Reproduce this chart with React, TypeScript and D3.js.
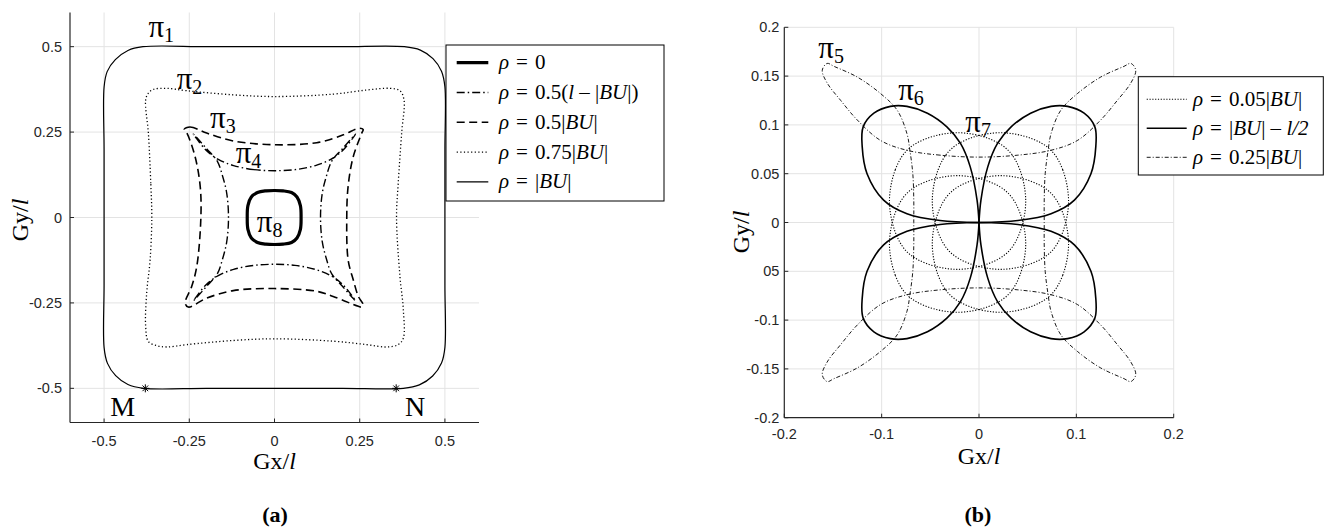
import React from "react";
import * as d3 from "d3";

type P = [number, number];

// ---------------- data: panel (a) ----------------
const aTicks = [-0.5, -0.25, 0, 0.25, 0.5];
const aTickLabels = ["-0.5", "-0.25", "0", "0.25", "0.5"];

// π1 : ρ = |BU|
const pi1: P[] = [
  [-0.5, 0], [-0.5, 0.2], [-0.5, 0.382], [-0.491, 0.427], [-0.467, 0.462], [-0.43, 0.489], [-0.386, 0.5],
  [-0.2, 0.5], [0, 0.5], [0.2, 0.5], [0.381, 0.5], [0.428, 0.49], [0.465, 0.465], [0.49, 0.428], [0.5, 0.382],
  [0.5, 0.2], [0.5, 0], [0.5, -0.2], [0.5, -0.38], [0.49, -0.426], [0.464, -0.464],
  [0.425, -0.49], [0.378, -0.5], [0.2, -0.5], [0, -0.5], [-0.2, -0.5], [-0.385, -0.5], [-0.43, -0.489],
  [-0.466, -0.463], [-0.49, -0.427], [-0.5, -0.38], [-0.5, -0.2],
];
// π2 : ρ = 0.75|BU|
const pi2: P[] = [
  [-0.36, 0], [-0.363, 0.1], [-0.37, 0.247], [-0.378, 0.344], [-0.37, 0.364], [-0.355, 0.375], [-0.316, 0.378],
  [-0.257, 0.371], [-0.121, 0.359], [0, 0.354], [0.172, 0.361], [0.27, 0.373], [0.339, 0.378], [0.368, 0.371],
  [0.38, 0.344], [0.373, 0.247], [0.363, 0.1], [0.358, 0], [0.368, -0.172], [0.378, -0.27], [0.378, -0.353],
  [0.363, -0.372], [0.329, -0.379], [0.27, -0.372], [0.172, -0.362], [0, -0.355], [-0.121, -0.36],
  [-0.257, -0.372], [-0.316, -0.379], [-0.345, -0.375], [-0.37, -0.363], [-0.378, -0.319], [-0.375, -0.221],
  [-0.365, -0.124],
];
// π3 : ρ = 0.5|BU|
const pi3: P[] = [
  [-0.265, 0.258], [-0.248, 0.265], [-0.199, 0.247], [-0.121, 0.224], [0, 0.213], [0.124, 0.219], [0.202, 0.242],
  [0.246, 0.261], [0.26, 0.258], [0.256, 0.247], [0.231, 0.178], [0.216, 0.091], [0.212, 0], [0.216, -0.124],
  [0.231, -0.182], [0.246, -0.231], [0.26, -0.255], [0.256, -0.262], [0.246, -0.26], [0.172, -0.231],
  [0.124, -0.216], [0, -0.208], [-0.121, -0.214], [-0.199, -0.236], [-0.253, -0.262], [-0.262, -0.25],
  [-0.243, -0.202], [-0.228, -0.143], [-0.216, 0], [-0.218, 0.091], [-0.233, 0.178], [-0.257, 0.247],
];
// π4 : ρ = 0.5(l − |BU|), upper-left quarter (from top centre to left centre)
const pi4Quarter: P[] = [
  [0, 0.137], [-0.06, 0.14], [-0.12, 0.152], [-0.165, 0.17], [-0.2, 0.196], [-0.228, 0.23], [-0.238, 0.244],
  [-0.232, 0.238], [-0.198, 0.2], [-0.168, 0.165], [-0.152, 0.12], [-0.14, 0.07], [-0.135, 0],
];
// π8 : ρ = 0
const pi8: P[] = [
  [-0.08, 0], [-0.078, 0.035], [-0.068, 0.06], [-0.05, 0.073], [-0.025, 0.078], [0, 0.079], [0.025, 0.078],
  [0.05, 0.073], [0.066, 0.06], [0.076, 0.035], [0.078, 0], [0.076, -0.035], [0.066, -0.06], [0.05, -0.073],
  [0.025, -0.078], [0, -0.079], [-0.025, -0.078], [-0.05, -0.073], [-0.068, -0.06], [-0.078, -0.035],
];
const starPoints: P[] = [[-0.379, -0.5], [0.357, -0.5]];
const legendA = ["ρ = 0", "ρ = 0.5(l – |BU|)", "ρ = 0.5|BU|", "ρ = 0.75|BU|", "ρ = |BU|"];
const labelsA = [
  { t: "π", s: "1", x: -0.37, y: 0.528 },
  { t: "π", s: "2", x: -0.287, y: 0.375 },
  { t: "π", s: "3", x: -0.189, y: 0.262 },
  { t: "π", s: "4", x: -0.114, y: 0.159 },
  { t: "π", s: "8", x: -0.052, y: -0.041 },
  { t: "M", s: "", x: -0.482, y: -0.58 },
  { t: "N", s: "", x: 0.383, y: -0.58 },
];

// ---------------- data: panel (b) ----------------
const bXTicks = [-0.2, -0.1, 0, 0.1, 0.2];
const bXTickLabels = ["-0.2", "-0.1", "0", "0.1", "0.2"];
const bYTicks = [-0.2, -0.15, -0.1, -0.05, 0, 0.05, 0.1, 0.15, 0.2];
const bYTickLabels = ["-0.2", "-0.15", "-0.1", "05", "0", "0.05", "0.1", "0.15", "0.2"];

// π5 : ρ = 0.25|BU|, upper-left quarter (from top inner arc to left inner side)
const pi5Quarter: P[] = [
  [0, 0.067], [-0.04, 0.069], [-0.074, 0.074], [-0.101, 0.084], [-0.125, 0.105], [-0.142, 0.125],
  [-0.156, 0.143], [-0.161, 0.156], [-0.156, 0.163], [-0.149, 0.16], [-0.125, 0.149], [-0.101, 0.132],
  [-0.084, 0.115], [-0.074, 0.091], [-0.071, 0.074], [-0.068, 0.05], [-0.067, 0.023], [-0.067, 0],
];
// π6 : ρ = |BU| − l/2, upper-left lobe
const pi6Lobe: P[] = [
  [0, 0], [-0.04, 0.002], [-0.074, 0.009], [-0.098, 0.023], [-0.115, 0.05], [-0.12, 0.078], [-0.119, 0.098],
  [-0.108, 0.112], [-0.091, 0.119], [-0.074, 0.119], [-0.053, 0.112], [-0.033, 0.098], [-0.019, 0.081],
  [-0.009, 0.057], [-0.002, 0.023], [0, 0],
];
// π7 : ρ = 0.05|BU|, upper-left loop
const pi7Loop: P[] = [
  [-0.092, 0.022], [-0.086, 0.054], [-0.074, 0.074], [-0.054, 0.086], [-0.022, 0.092], [0.01, 0.086],
  [0.03, 0.074], [0.042, 0.054], [0.048, 0.022], [0.042, -0.01], [0.03, -0.03], [0.01, -0.042],
  [-0.022, -0.048], [-0.054, -0.042], [-0.074, -0.03], [-0.086, -0.01],
];
const legendB = ["ρ = 0.05|BU|", "ρ = |BU| – l/2", "ρ = 0.25|BU|"];
const labelsB = [
  { t: "π", s: "5", x: -0.165, y: 0.169 },
  { t: "π", s: "6", x: -0.083, y: 0.126 },
  { t: "π", s: "7", x: -0.014, y: 0.093 },
];

// ---------------- helpers ----------------
const flip = (pts: P[], sx: number, sy: number): P[] => pts.map(([x, y]) => [x * sx, y * sy] as P);
const rev = (pts: P[]): P[] => pts.slice().reverse();
const fourfold = (q: P[]): P[] => {
  const tl = q;
  const bl = flip(rev(q), 1, -1).slice(1);
  const br = flip(q, -1, -1).slice(1);
  const tr = flip(rev(q), -1, 1).slice(1, -1);
  return [...tl, ...bl, ...br, ...tr];
};
const mirrors: [number, number][] = [[1, 1], [-1, 1], [1, -1], [-1, -1]];

const SERIF = "'Liberation Serif', 'Times New Roman', serif";
const SANS = "'Liberation Sans', Arial, Helvetica, sans-serif";
const AXIS = "#262626";
const GRID = "#e3e3e3";

const styleA = {
  thick: { w: 3.2, d: "" },
  dashdot: { w: 1.4, d: "8,3,1.5,3" },
  dashed: { w: 1.6, d: "8,4.5" },
  dotted: { w: 1.3, d: "1.2,2.4" },
  solid: { w: 1.2, d: "" },
};
const styleB = {
  dotted: { w: 1.1, d: "1.2,1.6" },
  solid: { w: 1.6, d: "" },
  dashdot: { w: 0.9, d: "4,2,1,2" },
};

function RichText({ text, x, y, size }: { text: string; x: number; y: number; size: number }) {
  const runs: { s: string; it: boolean }[] = [];
  const chars = Array.from(text.replace(" = ", "\u2004=\u2004"));
  chars.forEach((ch, i) => {
    const it = /[ρlBU]/.test(ch) || ((ch === "/" || ch === "2") && chars[i - 1] === "l") || (ch === "2" && chars[i - 1] === "/");
    const last = runs[runs.length - 1];
    if (last && last.it === it) last.s += ch;
    else runs.push({ s: ch, it });
  });
  return (
    <text x={x} y={y} fontFamily={SERIF} fontSize={size} fill="#000" xmlSpace="preserve">
      {runs.map((r, i) => (
        <tspan key={i} fontStyle={r.it ? "italic" : "normal"}>
          {r.s}
        </tspan>
      ))}
    </text>
  );
}

function AxisTitle({ x, y, base, rotate }: { x: number; y: number; base: string; rotate?: boolean }) {
  return (
    <text
      x={x}
      y={y}
      fontFamily={SERIF}
      fontSize={24}
      textAnchor="middle"
      transform={rotate ? `rotate(-90 ${x} ${y})` : undefined}
    >
      {base}
      <tspan fontStyle="italic">l</tspan>
    </text>
  );
}

function PiLabel({ t, s, x, y }: { t: string; s: string; x: number; y: number }) {
  return (
    <text x={x} y={y} fontFamily={SERIF} fontSize={t === "π" ? 31 : 28}>
      {t}
      {s && (
        <tspan fontSize={20} dy={5}>
          {s}
        </tspan>
      )}
    </text>
  );
}

export default function App() {
  // panel (a) scales
  const xa = d3.scaleLinear().domain([-0.6, 0.6]).range([70, 479]);
  const ya = d3.scaleLinear().domain([-0.6, 0.6]).range([422.5, 12.5]);
  // panel (b) scales
  const xb = d3.scaleLinear().domain([-0.2, 0.2]).range([784.3, 1173.7]);
  const yb = d3.scaleLinear().domain([-0.2, 0.2]).range([417.7, 27.3]);

  const closedA = d3.line<P>().x((d) => xa(d[0])).y((d) => ya(d[1])).curve(d3.curveCatmullRomClosed.alpha(0.5));
  const closedB = d3.line<P>().x((d) => xb(d[0])).y((d) => yb(d[1])).curve(d3.curveCatmullRomClosed.alpha(0.5));
  const openB = d3.line<P>().x((d) => xb(d[0])).y((d) => yb(d[1])).curve(d3.curveCatmullRom.alpha(0.5));

  const pi4 = fourfold(pi4Quarter);
  const pi5 = fourfold(pi5Quarter);

  const curvesA = [
    { pts: pi1, st: styleA.solid },
    { pts: pi2, st: styleA.dotted },
    { pts: pi3, st: styleA.dashed },
    { pts: pi4, st: styleA.dashdot },
    { pts: pi8, st: styleA.thick },
  ];
  const legendStylesA = [styleA.thick, styleA.dashdot, styleA.dashed, styleA.dotted, styleA.solid];
  const legendStylesB = [styleB.dotted, styleB.solid, styleB.dashdot];

  const [ax0, ax1] = xa.range();
  const [ay0, ay1] = ya.range();
  const [bx0, bx1] = xb.range();
  const [by0, by1] = yb.range();

  return (
    <svg
      width={1332}
      height={528}
      style={{ display: "block", position: "absolute", left: 0, top: 0, background: "#fff" }}
    >
      <rect x={0} y={0} width={1332} height={528} fill="#fff" />
      {/* ---------- panel (a) ---------- */}
      <g>
        {aTicks.map((t) => (
          <line key={"gx" + t} x1={xa(t)} x2={xa(t)} y1={ay0} y2={ay1} stroke={GRID} strokeWidth={1} />
        ))}
        {aTicks.map((t) => (
          <line key={"gy" + t} x1={ax0} x2={ax1} y1={ya(t)} y2={ya(t)} stroke={GRID} strokeWidth={1} />
        ))}
        {curvesA.map((c, i) => (
          <path
            key={i}
            d={closedA(c.pts) || ""}
            fill="none"
            stroke="#000"
            strokeWidth={c.st.w}
            strokeDasharray={c.st.d || undefined}
            strokeLinejoin="round"
          />
        ))}
        {starPoints.map(([px, py], i) => {
          const cx = xa(px);
          const cy = ya(py);
          const r = 4;
          const k = r * 0.707;
          return (
            <path
              key={i}
              d={`M${cx - r},${cy}H${cx + r}M${cx},${cy - r}V${cy + r}M${cx - k},${cy - k}L${cx + k},${cy + k}M${cx - k},${cy + k}L${cx + k},${cy - k}`}
              stroke="#000"
              strokeWidth={1}
            />
          );
        })}
        <line x1={ax0} x2={ax1} y1={ay0} y2={ay0} stroke={AXIS} strokeWidth={1.2} />
        <line x1={ax0} x2={ax0} y1={ay0} y2={ay1} stroke={AXIS} strokeWidth={1.2} />
        {aTicks.map((t) => (
          <line key={"tx" + t} x1={xa(t)} x2={xa(t)} y1={ay0} y2={ay0 - 4} stroke={AXIS} />
        ))}
        {aTicks.map((t) => (
          <line key={"ty" + t} x1={ax0} x2={ax0 + 4} y1={ya(t)} y2={ya(t)} stroke={AXIS} />
        ))}
        {aTicks.map((t, i) => (
          <text key={"lx" + t} x={xa(t)} y={446} textAnchor="middle" fontFamily={SANS} fontSize={14.5} fill={AXIS}>
            {aTickLabels[i]}
          </text>
        ))}
        {aTicks.map((t, i) => (
          <text key={"ly" + t} x={62} y={ya(t) + 5} textAnchor="end" fontFamily={SANS} fontSize={14.5} fill={AXIS}>
            {aTickLabels[i]}
          </text>
        ))}
        {labelsA.map((l, i) => (
          <PiLabel key={i} t={l.t} s={l.s} x={xa(l.x)} y={ya(l.y)} />
        ))}
        <AxisTitle x={(ax0 + ax1) / 2} y={469} base="Gx/" />
        <AxisTitle x={28} y={220} base="Gy/" rotate />
        <text x={275} y={522} textAnchor="middle" fontFamily={SERIF} fontSize={22} fontWeight="bold">
          (a)
        </text>
        {/* legend (a) */}
        <rect x={446} y={45} width={218} height={156} fill="#fff" stroke="#000" strokeWidth={1} />
        {legendA.map((txt, i) => {
          const ry = 62.7 + i * 29.8;
          const st = legendStylesA[i];
          return (
            <g key={i}>
              <line x1={456.7} x2={488.3} y1={ry} y2={ry} stroke="#000" strokeWidth={st.w} strokeDasharray={st.d || undefined} />
              <RichText text={txt} x={499} y={ry + 6.5} size={21} />
            </g>
          );
        })}
      </g>

      {/* ---------- panel (b) ---------- */}
      <g>
        {bXTicks.filter((t) => t > -0.2).map((t) => (
          <line key={"gx" + t} x1={xb(t)} x2={xb(t)} y1={by0} y2={by1} stroke={GRID} strokeWidth={1} />
        ))}
        {bYTicks.filter((t) => t > -0.2).map((t) => (
          <line key={"gy" + t} x1={bx0} x2={bx1} y1={yb(t)} y2={yb(t)} stroke={GRID} strokeWidth={1} />
        ))}
        {mirrors.map(([sx, sy], i) => (
          <path
            key={"p7" + i}
            d={closedB(flip(pi7Loop, sx, sy)) || ""}
            fill="none"
            stroke="#000"
            strokeWidth={styleB.dotted.w}
            strokeDasharray={styleB.dotted.d}
          />
        ))}
        <path
          d={closedB(pi5) || ""}
          fill="none"
          stroke="#000"
          strokeWidth={styleB.dashdot.w}
          strokeDasharray={styleB.dashdot.d}
        />
        {mirrors.map(([sx, sy], i) => (
          <path key={"p6" + i} d={openB(flip(pi6Lobe, sx, sy)) || ""} fill="none" stroke="#000" strokeWidth={styleB.solid.w} />
        ))}
        <line x1={bx0} x2={bx1} y1={by0} y2={by0} stroke={AXIS} strokeWidth={1.2} />
        <line x1={bx0} x2={bx0} y1={by0} y2={by1} stroke={AXIS} strokeWidth={1.2} />
        {bXTicks.map((t) => (
          <line key={"tx" + t} x1={xb(t)} x2={xb(t)} y1={by0} y2={by0 - 4} stroke={AXIS} />
        ))}
        {bYTicks.map((t) => (
          <line key={"ty" + t} x1={bx0} x2={bx0 + 4} y1={yb(t)} y2={yb(t)} stroke={AXIS} />
        ))}
        {bXTicks.map((t, i) => (
          <text key={"lx" + t} x={xb(t)} y={439} textAnchor="middle" fontFamily={SANS} fontSize={14.5} fill={AXIS}>
            {bXTickLabels[i]}
          </text>
        ))}
        {bYTicks.map((t, i) => (
          <text key={"ly" + t} x={779.3} y={yb(t) + 5} textAnchor="end" fontFamily={SANS} fontSize={14.5} fill={AXIS}>
            {bYTickLabels[i]}
          </text>
        ))}
        {labelsB.map((l, i) => (
          <PiLabel key={i} t={l.t} s={l.s} x={xb(l.x)} y={yb(l.y)} />
        ))}
        <AxisTitle x={(bx0 + bx1) / 2} y={464} base="Gx/" />
        <AxisTitle x={749} y={232} base="Gy/" rotate />
        <text x={978} y={522} textAnchor="middle" fontFamily={SERIF} fontSize={22} fontWeight="bold">
          (b)
        </text>
        {/* legend (b) */}
        <rect x={1138.3} y={76.7} width={185} height={98.3} fill="#fff" stroke="#000" strokeWidth={1} />
        {legendB.map((txt, i) => {
          const ry = 99.3 + i * 29;
          const st = legendStylesB[i];
          return (
            <g key={i}>
              <line x1={1146.7} x2={1186.7} y1={ry} y2={ry} stroke="#000" strokeWidth={st.w} strokeDasharray={st.d || undefined} />
              <RichText text={txt} x={1193} y={ry + 6.5} size={21} />
            </g>
          );
        })}
      </g>
    </svg>
  );
}
